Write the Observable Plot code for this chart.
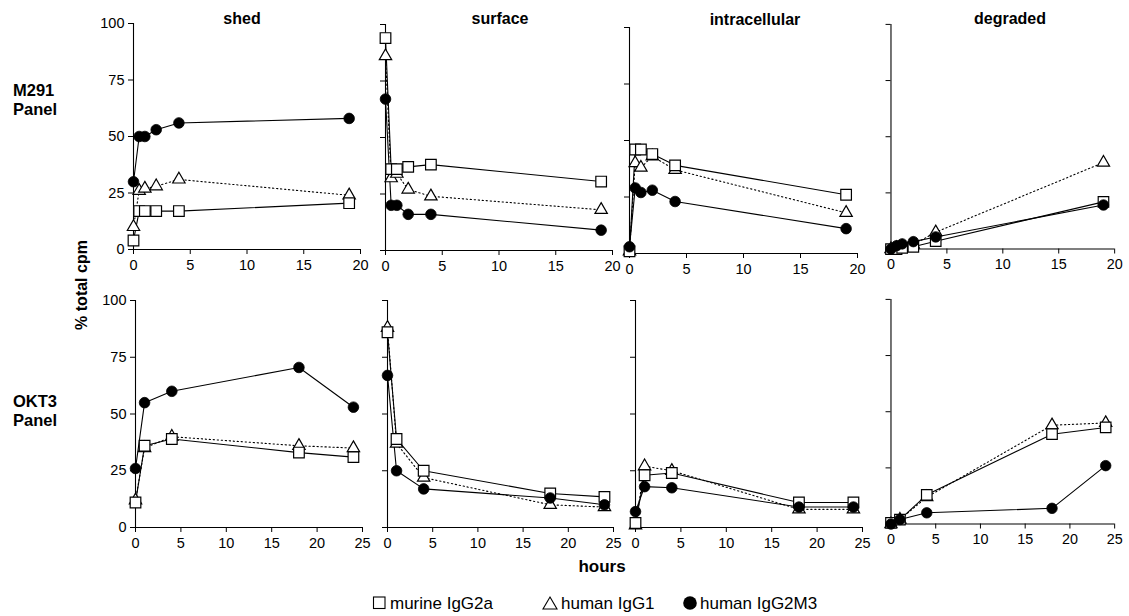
<!DOCTYPE html>
<html>
<head>
<meta charset="utf-8">
<script src="https://cdn.jsdelivr.net/npm/d3@7"></script>
<script src="https://cdn.jsdelivr.net/npm/@observablehq/plot@0.6"></script>
<style>
  html, body { margin: 0; padding: 0; background: white; }
  #wrap { position: relative; width: 1129px; height: 616px; overflow: hidden; background: white; }
  #wrap > div.pnl { position: absolute; }
  #overlay { position: absolute; left: 0; top: 0; }
</style>
</head>
<body>
<div id="wrap"></div>
<script>
// ---------- data ----------
const columns = ["shed", "surface", "intracellular", "degraded"];
const rowLabels = [["M291", "Panel"], ["OKT3", "Panel"]];
const seriesNames = ["murine IgG2a", "human IgG1", "human IgG2M3"];
const yTicks = [0, 25, 50, 75, 100];
const xTicksTop = [0, 5, 10, 15, 20];
const xTicksBottom = [0, 5, 10, 15, 20, 25];

const m291Times = [0, 0.5, 1, 2, 4, 19];
const okt3Times = [0, 1, 4, 18, 24];

// M291 panel
const m291ShedMurine = [4, 17, 17, 17, 17, 20.5];
const m291ShedG1     = [10, 26, 27, 28, 31, 24];
const m291ShedG2M3   = [30, 50, 50, 53, 56, 58];

const m291SurfaceMurine = [94, 36, 36, 37, 38, 30.5];
const m291SurfaceG1     = [86, 32, 34, 27, 24, 18];
const m291SurfaceG2M3   = [67, 20, 20, 16, 16, 9];

const m291IntraMurine = [1, 46, 46, 44, 39, 26];
const m291IntraG1     = [1, 40, 38, 43, 37, 18];
const m291IntraG2M3   = [3, 29, 27, 28, 23, 11];

const m291DegMurine = [0, 0, 0.5, 1, 3.5, 21];
const m291DegG1     = [0, 0.5, 1, 2, 7.5, 38.5];
const m291DegG2M3   = [0, 1.5, 2.3, 3.3, 5.4, 19.6];

// OKT3 panel
const okt3ShedMurine = [11, 36, 39, 33, 31];
const okt3ShedG1     = [12, 35, 40, 36, 35];
const okt3ShedG2M3   = [26, 55, 60, 70.5, 53];

const okt3SurfaceMurine = [86, 39, 25, 15, 13.5];
const okt3SurfaceG1     = [88, 37, 22, 10, 9];
const okt3SurfaceG2M3   = [67, 25, 17, 13, 10];

const okt3IntraMurine = [2, 23, 24, 11, 11];
const okt3IntraG1     = [1, 27, 25, 8, 8];
const okt3IntraG2M3   = [7, 18, 17.5, 9, 9];

const okt3DegMurine = [0.5, 2, 13, 40, 43];
const okt3DegG1     = [0, 2, 12, 44, 45];
const okt3DegG2M3   = [0, 2, 5, 7, 26];

// ---------- layout ----------
const FONT = '"Liberation Sans", Arial, Helvetica, sans-serif';
const mL = 50, mR = 15, mT = 10, mB = 34;

const panels = [
  // row 0 (M291)
  {row: 0, col: 0, x0: 133, x1: 360, y100: 23, y0: 249, times: m291Times, xmax: 20, xticks: xTicksTop, vals: [m291ShedMurine, m291ShedG1, m291ShedG2M3]},
  {row: 0, col: 1, x0: 385, x1: 612, y100: 24, y0: 250, times: m291Times, xmax: 20, xticks: xTicksTop, vals: [m291SurfaceMurine, m291SurfaceG1, m291SurfaceG2M3]},
  {row: 0, col: 2, x0: 629, x1: 857, y100: 27, y0: 253, times: m291Times, xmax: 20, xticks: xTicksTop, vals: [m291IntraMurine, m291IntraG1, m291IntraG2M3]},
  {row: 0, col: 3, x0: 891, x1: 1117, y100: 24, y0: 251, times: m291Times, xmax: 20, xticks: xTicksTop, vals: [m291DegMurine, m291DegG1, m291DegG2M3]},
  // row 1 (OKT3)
  {row: 1, col: 0, x0: 135, x1: 362, y100: 300, y0: 527, times: okt3Times, xmax: 25, xticks: xTicksBottom, vals: [okt3ShedMurine, okt3ShedG1, okt3ShedG2M3]},
  {row: 1, col: 1, x0: 387, x1: 613, y100: 300, y0: 527, times: okt3Times, xmax: 25, xticks: xTicksBottom, vals: [okt3SurfaceMurine, okt3SurfaceG1, okt3SurfaceG2M3]},
  {row: 1, col: 2, x0: 635, x1: 862, y100: 300, y0: 527, times: okt3Times, xmax: 25, xticks: xTicksBottom, vals: [okt3IntraMurine, okt3IntraG1, okt3IntraG2M3]},
  {row: 1, col: 3, x0: 891, x1: 1117, y100: 299, y0: 526, times: okt3Times, xmax: 25, xticks: xTicksBottom, vals: [okt3DegMurine, okt3DegG1, okt3DegG2M3]}
];

const wrap = document.getElementById("wrap");

function toRows(times, values, name) {
  return times.map((t, i) => ({t, v: values[i], s: name}));
}

for (const p of panels) {
  const [murine, g1, g2m3] = p.vals.map((v, i) => toRows(p.times, v, seriesNames[i]));
  const showY = p.col === 0;
  const plot = Plot.plot({
    width: (p.x1 - p.x0) + mL + mR,
    height: (p.y0 - p.y100) + mT + mB,
    marginLeft: mL, marginRight: mR, marginTop: mT, marginBottom: mB,
    x: {domain: [0, p.xmax]},
    y: {domain: [0, 100]},
    style: {background: "transparent", overflow: "visible", fontFamily: FONT, fontSize: "14.5px", color: "black"},
    marks: [
      Plot.ruleY([0], {stroke: "black", strokeWidth: 1.1}),
      Plot.ruleX([0], {stroke: "black", strokeWidth: 1.1}),
      Plot.axisX({ticks: p.xticks, tickSize: 5, tickPadding: 5, label: null, stroke: "black", fill: "black"}),
      Plot.axisY({ticks: yTicks, tickSize: 5, tickPadding: 4, label: null, stroke: "black", fill: "black",
                  tickFormat: showY ? (d => String(d)) : (() => "")}),
      Plot.line(g1, {x: "t", y: "v", stroke: "black", strokeWidth: 1.1, strokeDasharray: "1.3,2.7"}),
      Plot.line(murine, {x: "t", y: "v", stroke: "black", strokeWidth: 1.1}),
      Plot.line(g2m3, {x: "t", y: "v", stroke: "black", strokeWidth: 1.1}),
      Plot.dot(g1, {x: "t", y: "v", symbol: "triangle", r: 4.6, fill: "white", stroke: "black", strokeWidth: 1.2}),
      Plot.dot(murine, {x: "t", y: "v", symbol: "square", r: 6, fill: "white", stroke: "black", strokeWidth: 1.2}),
      Plot.dot(g2m3, {x: "t", y: "v", symbol: "circle", r: 5.3, fill: "black", stroke: "black", strokeWidth: 0.8})
    ]
  });
  const div = document.createElement("div");
  div.className = "pnl";
  div.style.left = (p.x0 - mL) + "px";
  div.style.top = (p.y100 - mT) + "px";
  div.appendChild(plot);
  wrap.appendChild(div);
}

// ---------- annotations (titles, labels, legend) ----------
const ov = d3.select(wrap).append("svg")
  .attr("id", "overlay").attr("width", 1129).attr("height", 616)
  .style("font-family", FONT).style("pointer-events", "none");

const titleX = [242, 500, 755, 1010];
const titleY = [24, 24, 25, 24];
columns.forEach((c, i) => {
  ov.append("text").attr("x", titleX[i]).attr("y", titleY[i])
    .attr("text-anchor", "middle").attr("font-weight", "bold").attr("font-size", 16).text(c);
});

const rowLabelY = [[96, 115], [407, 426]];
rowLabels.forEach((lines, r) => {
  lines.forEach((t, j) => {
    ov.append("text").attr("x", 13).attr("y", rowLabelY[r][j])
      .attr("font-weight", "bold").attr("font-size", 16.5).text(t);
  });
});

ov.append("text").attr("transform", "translate(87,285) rotate(-90)")
  .attr("text-anchor", "middle").attr("font-weight", "bold").attr("font-size", 16).text("% total cpm");

ov.append("text").attr("x", 602).attr("y", 572).attr("text-anchor", "middle")
  .attr("font-weight", "bold").attr("font-size", 17).text("hours");

// legend
const lg = ov.append("g");
lg.append("rect").attr("x", 373.5).attr("y", 597).attr("width", 11.5).attr("height", 11.5)
  .attr("fill", "white").attr("stroke", "black").attr("stroke-width", 1.1);
lg.append("text").attr("x", 390).attr("y", 608.5).attr("font-size", 17).text(seriesNames[0]);
lg.append("path").attr("d", "M550,597 L557,609 L543,609 Z")
  .attr("fill", "white").attr("stroke", "black").attr("stroke-width", 1.1);
lg.append("text").attr("x", 561).attr("y", 608.5).attr("font-size", 17).text(seriesNames[1]);
lg.append("circle").attr("cx", 690).attr("cy", 603).attr("r", 6.8).attr("fill", "black");
lg.append("text").attr("x", 700).attr("y", 608.5).attr("font-size", 17).text(seriesNames[2]);
</script>
</body>
</html>
